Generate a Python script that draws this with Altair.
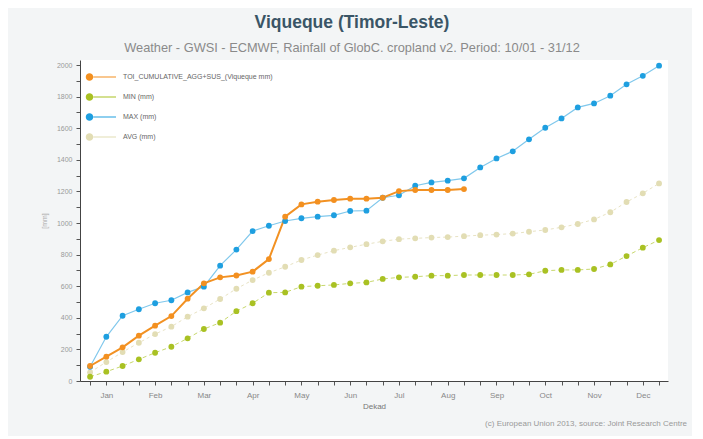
import altair as alt
import pandas as pd

months = ["Jan", "Feb", "Mar", "Apr", "May", "Jun", "Jul", "Aug", "Sep", "Oct", "Nov", "Dec"]
dekads = list(range(36))

series_names = ["TOI_CUMULATIVE_AGG+SUS_(Viqueque mm)", "MIN (mm)", "MAX (mm)", "AVG (mm)"]

current_vals = [95, 154, 213, 287, 350, 411, 521, 618, 656, 668, 692, 772,
                1040, 1118, 1135, 1146, 1154, 1154, 1160, 1202, 1209, 1209, 1209, 1215]
min_vals = [27, 59, 95, 137, 179, 217, 270, 329, 369, 442, 492, 559,
            561, 597, 603, 608, 618, 624, 646, 656, 660, 667, 667, 671,
            671, 671, 671, 675, 698, 703, 703, 709, 738, 791, 844, 892]
max_vals = [90, 280, 413, 454, 492, 511, 561, 597, 730, 832, 949, 983,
            1013, 1030, 1040, 1049, 1076, 1078, 1160, 1176, 1236, 1257, 1268, 1283,
            1352, 1409, 1454, 1530, 1603, 1662, 1732, 1757, 1806, 1878, 1932, 1996]
avg_vals = [55, 120, 183, 242, 297, 344, 407, 460, 519, 584, 639, 685,
            723, 766, 797, 825, 846, 866, 884, 898, 903, 908, 911, 917,
            923, 927, 933, 945, 956, 973, 994, 1023, 1068, 1133, 1188, 1251]

rows = []
for name, vals in zip(series_names, [current_vals, min_vals, max_vals, avg_vals]):
    for i, v in enumerate(vals):
        rows.append({"series": name, "dekad": dekads[i], "value": v})
df = pd.DataFrame(rows)

marker_colors = ["#f39020", "#a9c123", "#1e9fe0", "#e2ddb4"]
line_styles = {
    series_names[0]: dict(color="#f29122", strokeWidth=2),
    series_names[1]: dict(color="#c8d86e", strokeWidth=1, strokeDash=[4, 3]),
    series_names[2]: dict(color="#80c8ec", strokeWidth=1.2),
    series_names[3]: dict(color="#e8e3c4", strokeWidth=1, strokeDash=[3, 3]),
}

month_arr = "[" + ",".join("'%s'" % m for m in months) + "]"
x_enc = alt.X(
    "dekad:Q",
    scale=alt.Scale(domain=[-0.62, 35.55], nice=False, zero=False),
    axis=alt.Axis(
        values=dekads,
        labelExpr="datum.value % 3 == 1 ? " + month_arr + "[floor(datum.value / 3)] : ''",
        title="Dekad", grid=False, labelOverlap=False, labelFlush=False,
        domainColor="#444", tickColor="#555", tickSize=4, labelColor="#888",
        labelFontSize=8, labelPadding=6, titleFontSize=8, titleFontWeight="normal",
        titleColor="#777", titlePadding=3,
    ),
)
y_enc = alt.Y(
    "value:Q",
    scale=alt.Scale(domain=[0, 2032], nice=False),
    axis=alt.Axis(
        values=list(range(0, 2001, 100)), format="d",
        labelExpr="datum.value % 200 == 0 ? datum.label : ''",
        title="[mm]", grid=False, labelOverlap=False, labelFlush=False,
        domainColor="#444", tickColor="#555", tickSize=4, labelColor="#999",
        labelFontSize=7, labelPadding=4, titleFontSize=7, titleFontWeight="normal",
        titleColor="#aaa", titlePadding=9,
    ),
)

base = alt.Chart(df)

draw_order = [series_names[3], series_names[1], series_names[2], series_names[0]]
line_layers = [
    base.transform_filter(alt.datum.series == s).mark_line(**line_styles[s]).encode(x=x_enc, y=y_enc)
    for s in draw_order
]

legend_path = ("M-3.05,0 A0.75,0.75 0 1,0 -1.55,0 A0.75,0.75 0 1,0 -3.05,0 Z "
               "M-1.6,-0.12 L3,-0.12 L3,0.12 L-1.6,0.12 Z")

points = base.mark_point(filled=True, size=34, opacity=1).encode(
    x=x_enc,
    y=y_enc,
    color=alt.Color(
        "series:N",
        scale=alt.Scale(domain=series_names, range=marker_colors),
        legend=alt.Legend(
            title=None, orient="none", legendX=15, legendY=11,
            symbolType=legend_path, symbolSize=100, symbolOpacity=1,
            labelOffset=16, labelFontSize=7, labelColor="#666", rowPadding=10,
            padding=0,
        ),
    ),
    order=alt.Order("series:N"),
)

one = pd.DataFrame({"k": [0]})
title_mark = alt.Chart(one).mark_text(
    text="Viqueque (Timor-Leste)", fontSize=17.5, fontWeight="bold", color="#3a5566",
    align="center", baseline="middle",
).encode(x=alt.value(272), y=alt.value(-37))
subtitle_mark = alt.Chart(one).mark_text(
    text="Weather - GWSI - ECMWF, Rainfall of GlobC. cropland v2. Period: 10/01 - 31/12",
    fontSize=12.8, color="#8a8a8a", align="center", baseline="middle",
).encode(x=alt.value(272), y=alt.value(-12))
footer_mark = alt.Chart(one).mark_text(
    text="(c) European Union 2013, source: Joint Research Centre",
    fontSize=8, color="#999", align="right", baseline="middle",
).encode(x=alt.value(607), y=alt.value(364))

chart = alt.layer(
    *line_layers, points, title_mark, subtitle_mark, footer_mark
).properties(
    width=588, height=321,
    autosize=alt.AutoSizeParams(type="none"),
    padding={"left": 72, "top": 52, "right": 24, "bottom": 55},
    background="#f3f5f6",
    view=alt.ViewBackground(fill="white", stroke=None),
).configure(
    font="Liberation Sans"
)

chart.save("out.html", embed_options={"renderer": "svg", "actions": False})
